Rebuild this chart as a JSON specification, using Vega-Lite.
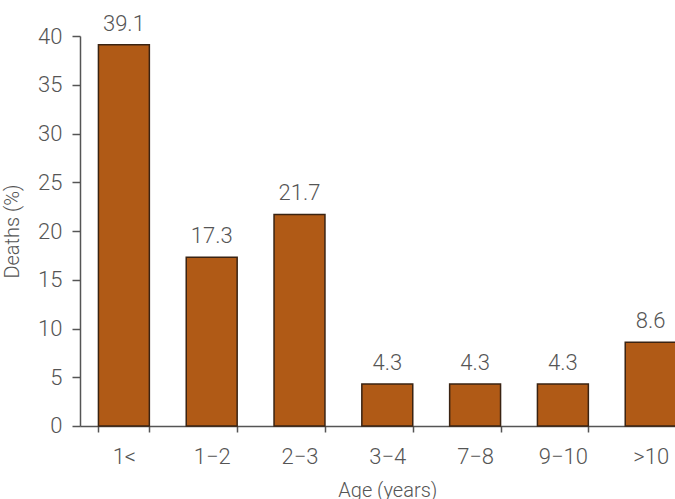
{
  "$schema": "https://vega.github.io/schema/vega-lite/v6.json",
  "autosize": {"type": "none"},
  "padding": {"left": 80, "top": 36, "right": 0, "bottom": 73},
  "width": 614.6,
  "height": 390,
  "background": "white",
  "config": {
    "view": {"stroke": null},
    "font": "Roboto",
    "axis": {
      "domainColor": "#555555",
      "tickColor": "#555555",
      "labelColor": "#555555",
      "titleColor": "#555555",
      "labelFont": "Roboto",
      "titleFont": "Roboto",
      "labelFontWeight": 300,
      "titleFontWeight": 300,
      "labelFontSize": 22,
      "titleFontSize": 20,
      "grid": false,
      "domainWidth": 1.5,
      "tickWidth": 1.5
    }
  },
  "data": {
    "values": [
      {"age": "1<", "deaths": 39.1},
      {"age": "1\u22122", "deaths": 17.3},
      {"age": "2\u22123", "deaths": 21.7},
      {"age": "3\u22124", "deaths": 4.3},
      {"age": "7\u22128", "deaths": 4.3},
      {"age": "9\u221210", "deaths": 4.3},
      {"age": ">10", "deaths": 8.6}
    ]
  },
  "encoding": {
    "x": {
      "field": "age",
      "type": "nominal",
      "sort": null,
      "scale": {"paddingInner": 0.42, "paddingOuter": 0.21},
      "axis": {
        "title": "Age (years)",
        "labelAngle": 0,
        "tickBand": "extent",
        "tickSize": 6,
        "labelPadding": 15,
        "titlePadding": 13
      }
    },
    "y": {
      "field": "deaths",
      "type": "quantitative",
      "scale": {"domain": [0, 40], "nice": false},
      "axis": {
        "title": "Deaths (%)",
        "values": [0, 5, 10, 15, 20, 25, 30, 35, 40],
        "tickSize": 8,
        "labelPadding": 10,
        "titlePadding": 15
      }
    }
  },
  "layer": [
    {
      "mark": {"type": "bar", "color": "#b05a16", "stroke": "#3a2312", "strokeWidth": 1.5}
    },
    {
      "mark": {"type": "text", "baseline": "alphabetic", "dy": -14, "fontSize": 22, "fontWeight": 300, "font": "Roboto", "color": "#555555"},
      "encoding": {"text": {"field": "deaths", "type": "quantitative", "format": ".1f"}}
    }
  ]
}
